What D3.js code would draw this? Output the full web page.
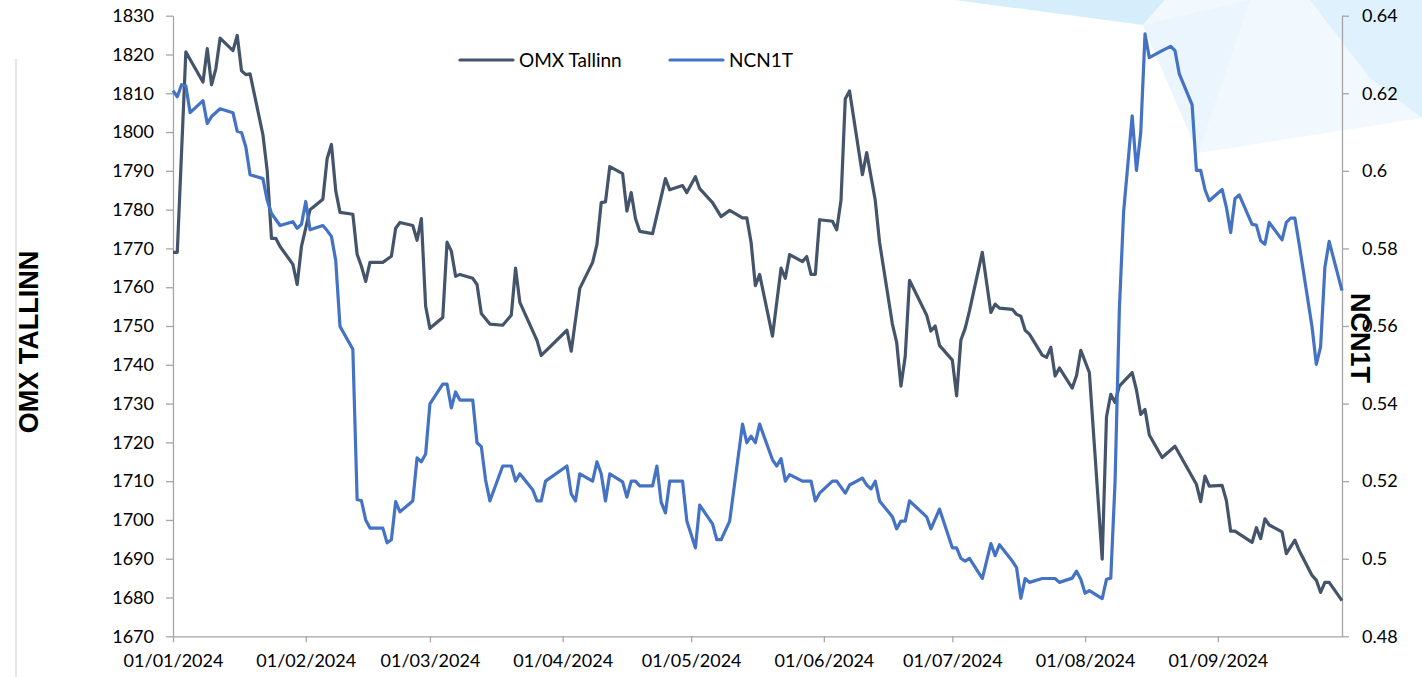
<!DOCTYPE html>
<html>
<head>
<meta charset="utf-8">
<script src="https://cdn.jsdelivr.net/npm/d3@7"></script>
<style>
  body { margin: 0; background: #fff; }
  svg text { font-family: Lato, "Open Sans", sans-serif; fill: #000; }
  .axis path, .axis line { stroke: #a6a6a6; stroke-width: 1.3; }
  .axis text { font-size: 18px; }
  .title { font-family: "Liberation Sans", Arial, sans-serif !important; font-weight: bold; font-size: 27px; }
</style>
</head>
<body>
<div id="chart"></div>
<script>
// days counted from 01/01/2024
var omxDays = [0, 1, 3, 4, 7, 8, 9, 10, 11, 14, 15, 16, 17, 18, 21, 22, 23, 24, 25, 28, 29, 30, 32, 35, 36, 37, 38, 39, 42, 43, 44, 45, 46, 49, 50, 51, 52, 53, 56, 57, 58, 59, 60, 63, 64, 65, 66, 67, 70, 71, 72, 74, 77, 79, 80, 81, 85, 86, 92, 93, 95, 98, 99, 100, 101, 102, 105, 106, 107, 108, 109, 112, 115, 116, 119, 120, 122, 123, 126, 128, 130, 133, 134, 135, 136, 137, 140, 142, 143, 144, 147, 148, 149, 150, 151, 154, 155, 156, 157, 158, 161, 162, 164, 165, 168, 169, 170, 171, 172, 176, 177, 178, 179, 182, 183, 184, 185, 186, 189, 191, 192, 193, 196, 197, 198, 199, 200, 203, 204, 205, 206, 207, 210, 211, 212, 214, 217, 218, 219, 220, 221, 224, 225, 226, 227, 228, 231, 234, 239, 240, 241, 242, 245, 246, 247, 248, 252, 253, 254, 255, 256, 259, 260, 262, 263, 266, 267, 268, 269, 270, 273];
var omxValues = [1769, 1769, 1820.7, 1818.7, 1812.9, 1821.5, 1812.2, 1816.3, 1824.2, 1821, 1824.9, 1815.8, 1814.8, 1815, 1799.3, 1790, 1772.6, 1772.6, 1770.5, 1765.9, 1760.7, 1770.5, 1780, 1782.7, 1793.2, 1796.8, 1784.9, 1779.3, 1778.8, 1768.5, 1765.4, 1761.5, 1766.4, 1766.4, 1767.2, 1768, 1775.2, 1776.7, 1775.9, 1772.1, 1777.7, 1755.1, 1749.4, 1752.2, 1771.6, 1769.3, 1762.8, 1763.3, 1762.3, 1760.7, 1753.2, 1750.5, 1750.2, 1752.8, 1764.9, 1756.1, 1746.3, 1742.4, 1748.9, 1743.5, 1759.7, 1766.4, 1771, 1781.8, 1782, 1791.1, 1789.3, 1779.6, 1784.4, 1777.7, 1774.4, 1773.8, 1788, 1785.1, 1786.2, 1784.4, 1788.5, 1785.4, 1781.8, 1778.2, 1779.8, 1777.9, 1777.9, 1771.6, 1760.4, 1763.3, 1747.4, 1764.9, 1762.3, 1768.4, 1766.6, 1767.9, 1763.3, 1763.3, 1777.4, 1777, 1774.8, 1782.4, 1808.6, 1810.6, 1789, 1794.7, 1782.4, 1771.6, 1750.5, 1745.8, 1734.5, 1742.2, 1761.8, 1752.8, 1748.7, 1750, 1745, 1741.2, 1732, 1746.4, 1749.4, 1753.9, 1769, 1753.5, 1755.6, 1754.6, 1754.3, 1753, 1752.5, 1748.9, 1747.9, 1742.5, 1741.9, 1744.5, 1737.1, 1739.2, 1734, 1737.2, 1743.7, 1738, 1689.9, 1726.6, 1732.4, 1730.3, 1734.5, 1738, 1733.5, 1727.2, 1728.5, 1721.9, 1716.1, 1719, 1709.2, 1704.7, 1711.3, 1708.7, 1708.9, 1705, 1697.1, 1697.1, 1694.2, 1698, 1695.2, 1700.3, 1698.7, 1696.9, 1691.3, 1694.8, 1692.1, 1685.7, 1684.5, 1681.3, 1683.9, 1683.9, 1679.2];

var ncnDays = [0, 1, 2, 3, 4, 7, 8, 9, 11, 14, 15, 16, 17, 18, 21, 22, 23, 25, 28, 29, 30, 31, 32, 35, 36, 37, 38, 39, 42, 43, 44, 45, 46, 49, 50, 51, 52, 53, 56, 57, 58, 59, 60, 63, 64, 65, 66, 67, 70, 71, 72, 73, 74, 77, 79, 80, 81, 84, 85, 86, 87, 92, 93, 94, 95, 98, 99, 100, 101, 102, 105, 106, 107, 108, 109, 112, 113, 114, 115, 116, 119, 120, 122, 123, 126, 127, 128, 130, 133, 134, 135, 136, 137, 140, 141, 142, 143, 144, 147, 149, 150, 151, 154, 155, 157, 158, 161, 162, 163, 164, 165, 168, 169, 170, 171, 172, 176, 177, 179, 182, 183, 184, 185, 186, 189, 191, 192, 193, 196, 197, 198, 199, 200, 203, 206, 207, 210, 211, 212, 213, 214, 217, 218, 219, 220, 221, 222, 224, 225, 226, 227, 228, 231, 233, 234, 235, 238, 239, 240, 241, 242, 245, 246, 247, 248, 249, 252, 253, 254, 255, 256, 259, 260, 261, 262, 263, 266, 267, 268, 269, 270, 273];
var ncnValues = [0.6207, 0.6191, 0.6222, 0.6219, 0.615, 0.6181, 0.6122, 0.614, 0.616, 0.615, 0.6102, 0.6099, 0.6062, 0.599, 0.598, 0.5924, 0.589, 0.5859, 0.5869, 0.5852, 0.5862, 0.5921, 0.5848, 0.5859, 0.5846, 0.5831, 0.5769, 0.5599, 0.554, 0.5152, 0.515, 0.51, 0.5079, 0.5079, 0.5041, 0.5049, 0.5147, 0.5121, 0.5149, 0.526, 0.525, 0.527, 0.5399, 0.545, 0.545, 0.5389, 0.543, 0.5409, 0.5409, 0.5299, 0.5289, 0.5203, 0.5149, 0.5239, 0.5239, 0.52, 0.5219, 0.5178, 0.5149, 0.5149, 0.52, 0.5239, 0.5167, 0.5149, 0.5219, 0.52, 0.525, 0.5219, 0.5149, 0.5219, 0.5198, 0.5159, 0.52, 0.52, 0.5188, 0.5188, 0.5239, 0.5146, 0.5118, 0.52, 0.52, 0.5097, 0.5028, 0.5138, 0.509, 0.5049, 0.5049, 0.5097, 0.5347, 0.5299, 0.5316, 0.5299, 0.5347, 0.5255, 0.5239, 0.5258, 0.52, 0.5217, 0.52, 0.52, 0.5149, 0.5169, 0.52, 0.52, 0.5169, 0.519, 0.5208, 0.519, 0.518, 0.52, 0.5149, 0.5108, 0.5077, 0.5097, 0.5097, 0.5149, 0.5108, 0.5077, 0.5128, 0.5028, 0.5028, 0.5001, 0.4994, 0.5001, 0.4949, 0.5039, 0.5008, 0.5036, 0.4994, 0.4977, 0.4898, 0.4949, 0.4939, 0.4949, 0.4949, 0.4939, 0.495, 0.4968, 0.4947, 0.4911, 0.4918, 0.4897, 0.4947, 0.495, 0.5198, 0.5641, 0.5894, 0.6142, 0.6001, 0.6099, 0.6353, 0.6292, 0.631, 0.6321, 0.631, 0.625, 0.617, 0.6001, 0.6001, 0.5952, 0.5923, 0.5952, 0.5906, 0.5841, 0.5928, 0.5938, 0.5862, 0.586, 0.582, 0.5811, 0.5867, 0.5822, 0.5867, 0.5878, 0.5878, 0.5811, 0.5598, 0.5501, 0.5546, 0.5751, 0.5818, 0.5691];

var seriesNames = ["OMX Tallinn", "NCN1T"];
var seriesColors = ["#44546A", "#4472C4"];
var leftTicks = d3.range(1670, 1831, 10);
var rightTicks = d3.range(0.48, 0.6401, 0.02);

var width = 1422, height = 677;
var plot = { left: 173, right: 1342, top: 15.7, bottom: 636.3 };
var startDate = new Date(2024, 0, 1);

var svg = d3.select("#chart")
    .append("svg")
    .attr("width", width)
    .attr("height", height);

// pale blue background shapes in the top right corner
var bgShapes = [
    { fill: "#d6eefc", pts: [[955, 0], [1143, 25], [1165, 0]] },
    { fill: "#f1f8fe", pts: [[1143, 25], [1198, 153], [1422, 118], [1422, 0], [1165, 0]] },
    { fill: "#eaf5fe", pts: [[1143, 25], [1198, 153], [1250, 0]] },
    { fill: "#def1fd", pts: [[1310, 0], [1422, 0], [1422, 118], [1370, 78]] }
];
svg.selectAll(".bg")
    .data(bgShapes)
    .enter().append("polygon")
    .attr("class", "bg")
    .attr("points", function (d) { return d.pts.join(" "); })
    .attr("fill", function (d) { return d.fill; });

// thin grey rule on the far left
svg.append("line")
    .attr("x1", 16).attr("x2", 16)
    .attr("y1", 59).attr("y2", height)
    .attr("stroke", "#d9d9d9")
    .attr("stroke-width", 1.3);

var x = d3.scaleTime()
    .domain([startDate, d3.timeDay.offset(startDate, 273)])
    .range([plot.left, plot.right]);
var yLeft = d3.scaleLinear().domain([1670, 1830]).range([plot.bottom, plot.top]);
var yRight = d3.scaleLinear().domain([0.48, 0.64]).range([plot.bottom, plot.top]);

function toPoints(days, values) {
    return days.map(function (d, i) {
        return { date: d3.timeDay.offset(startDate, d), value: values[i] };
    });
}

var omx = toPoints(omxDays, omxValues);
var ncn = toPoints(ncnDays, ncnValues);

// axes
svg.append("g")
    .attr("class", "axis")
    .attr("transform", "translate(0," + plot.bottom + ")")
    .call(d3.axisBottom(x)
        .ticks(d3.timeMonth.every(1))
        .tickFormat(d3.timeFormat("%d/%m/%Y"))
        .tickSizeInner(6).tickSizeOuter(0).tickPadding(12));

svg.append("g")
    .attr("class", "axis")
    .attr("transform", "translate(" + plot.left + ",0)")
    .call(d3.axisLeft(yLeft)
        .tickValues(leftTicks)
        .tickFormat(d3.format("d"))
        .tickSizeInner(7).tickSizeOuter(0).tickPadding(12));

svg.append("g")
    .attr("class", "axis")
    .attr("transform", "translate(" + plot.right + ",0)")
    .call(d3.axisRight(yRight)
        .tickValues(rightTicks)
        .tickFormat(function (d) { return String(+d.toFixed(2)); })
        .tickSizeInner(7).tickSizeOuter(0).tickPadding(13));

// lines, NCN1T drawn on top like the secondary series
svg.append("path")
    .datum(omx)
    .attr("fill", "none")
    .attr("stroke", seriesColors[0])
    .attr("stroke-width", 3.2)
    .attr("stroke-linejoin", "round")
    .attr("d", d3.line()
        .x(function (d) { return x(d.date); })
        .y(function (d) { return yLeft(d.value); }));

svg.append("path")
    .datum(ncn)
    .attr("fill", "none")
    .attr("stroke", seriesColors[1])
    .attr("stroke-width", 3.2)
    .attr("stroke-linejoin", "round")
    .attr("d", d3.line()
        .x(function (d) { return x(d.date); })
        .y(function (d) { return yRight(d.value); }));

// axis titles
svg.append("text")
    .attr("class", "title")
    .attr("transform", "translate(38,342) rotate(-90)")
    .attr("text-anchor", "middle")
    .text("OMX TALLINN");

svg.append("text")
    .attr("class", "title")
    .attr("transform", "translate(1351,338) rotate(90)")
    .attr("text-anchor", "middle")
    .text("NCN1T");

// legend
var legendX = [460, 670];
var legend = svg.selectAll(".legend")
    .data(seriesNames)
    .enter().append("g")
    .attr("class", "legend")
    .attr("transform", function (d, i) { return "translate(" + legendX[i] + ",60)"; });

legend.append("line")
    .attr("x1", 0).attr("x2", 53)
    .attr("stroke", function (d, i) { return seriesColors[i]; })
    .attr("stroke-width", 3.2)
    .attr("stroke-linecap", "round");

legend.append("text")
    .attr("x", 59)
    .attr("dy", "0.35em")
    .style("font-size", "19px")
    .text(function (d) { return d; });
</script>
</body>
</html>
